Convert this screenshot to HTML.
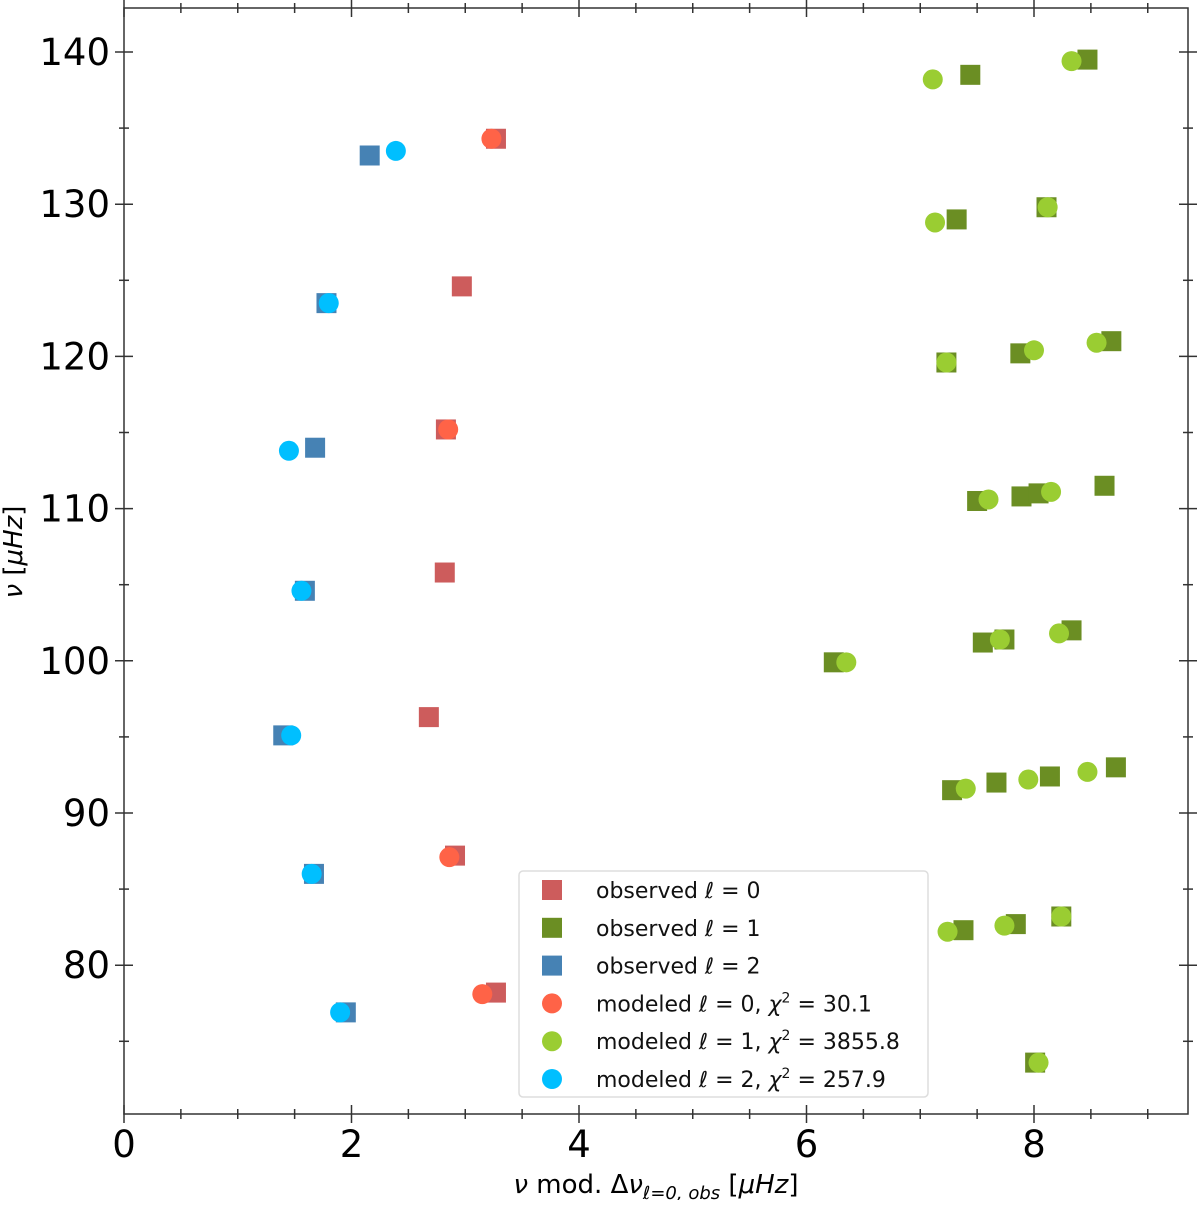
<!DOCTYPE html>
<html><head><meta charset="utf-8"><style>
body{margin:0;background:#fff}
svg text{font-family:"DejaVu Sans","Liberation Sans",sans-serif}
</style></head><body>
<svg id="chart" width="1200" height="1200" xmlns="http://www.w3.org/2000/svg"></svg>
<script>
const xTicks=[0,2,4,6,8];
const yTicks=[80,90,100,110,120,130,140];
const obs0X=[3.27,2.97,2.83,2.82,2.68,2.91,3.27];
const obs0Y=[134.3,124.6,115.2,105.8,96.3,87.2,78.2];
const obs1X=[7.44,8.47,7.32,8.11,7.23,7.88,8.68,7.50,7.89,8.04,8.62,7.55,7.74,8.33,6.24,7.28,7.67,8.14,8.72,7.38,7.84,8.24,8.01];
const obs1Y=[138.5,139.5,129.0,129.8,119.6,120.2,121.0,110.5,110.8,111.0,111.5,101.2,101.4,102.0,99.9,91.5,92.0,92.4,93.0,82.3,82.7,83.2,73.6];
const obs2X=[2.16,1.78,1.68,1.59,1.40,1.67,1.95];
const obs2Y=[133.2,123.5,114.0,104.6,95.1,86.0,76.9];
const mod0X=[3.23,2.85,2.86,3.15];
const mod0Y=[134.3,115.2,87.1,78.1];
const mod1X=[7.11,8.33,7.13,8.12,7.23,8.0,8.55,7.60,8.15,7.70,8.22,6.35,7.40,7.95,8.47,7.24,7.74,8.24,8.04];
const mod1Y=[138.2,139.4,128.8,129.8,119.6,120.4,120.9,110.6,111.1,101.4,101.8,99.9,91.6,92.2,92.7,82.2,82.6,83.2,73.6];
const mod2X=[2.39,1.80,1.45,1.56,1.47,1.65,1.90];
const mod2Y=[133.5,123.5,113.8,104.6,95.1,86.0,76.9];

const L=124,R=1188,T=8,B=1114;
const sx=v=>L+v*113.75;
const sy=v=>52+(140-v)*15.22;
const svg=document.getElementById('chart');
const NS='http://www.w3.org/2000/svg';
function mk(tag,attrs,parent){const e=document.createElementNS(NS,tag);for(const k in attrs)e.setAttribute(k,attrs[k]);(parent||svg).appendChild(e);return e;}

const tg=mk('g',{stroke:'#333','stroke-width':1.5});


for(let v=0;v<=9.3;v+=0.5){const x=sx(v);const maj=Math.abs(v%2)<1e-6;const l=maj?9:5;
 mk('line',{x1:x,x2:x,y1:B-l,y2:B+l},tg);mk('line',{x1:x,x2:x,y1:T-l,y2:T+l},tg);}
for(let v=75;v<=142;v+=5){const y=sy(v);const maj=v%10===0;const l=maj?9:5;
 mk('line',{x1:L-l,x2:L+l,y1:y,y2:y},tg);mk('line',{x1:R-l,x2:R+l,y1:y,y2:y},tg);}
const fr=mk('rect',{x:L,y:T,width:R-L,height:B-T,fill:'none',stroke:'#333','stroke-width':1.5});



xTicks.forEach(v=>{const t=mk('text',{x:sx(v),y:1157,'font-size':37,'text-anchor':'middle',fill:'#000'});t.textContent=v;

});
yTicks.forEach(v=>{const t=mk('text',{x:110,y:sy(v)+13,'font-size':37,'text-anchor':'end',fill:'#000'});t.textContent=v;

});

const xt=mk('text',{x:656,y:1193,'font-size':26,'text-anchor':'middle'});
xt.innerHTML='<tspan font-style="italic">ν</tspan> mod. Δ<tspan font-style="italic">ν</tspan><tspan font-size="18" dy="6" font-style="italic">ℓ=0, obs</tspan><tspan dy="-6"> [</tspan><tspan font-style="italic">μHz</tspan>]';


const yt=mk('text',{x:0,y:0,'font-size':26,'text-anchor':'middle',transform:'translate(22,552) rotate(-90)'});
yt.innerHTML='<tspan font-style="italic">ν</tspan> [<tspan font-style="italic">μHz</tspan>]';



function squares(xs,ys,col,name){xs.forEach((v,i)=>{const r=mk('rect',{x:sx(v)-10,y:sy(ys[i])-10,width:20,height:20,fill:col});

});}
function circles(xs,ys,col,name){xs.forEach((v,i)=>{const c=mk('circle',{cx:sx(v),cy:sy(ys[i]),r:10,fill:col});

});}
squares(obs0X,obs0Y,'#cd5c5c','observed-l0-point');
squares(obs1X,obs1Y,'#6b8e23','observed-l1-point');
squares(obs2X,obs2Y,'#4682b4','observed-l2-point');
circles(mod0X,mod0Y,'#ff6347','modeled-l0-point');
circles(mod1X,mod1Y,'#9acd32','modeled-l1-point');
circles(mod2X,mod2Y,'#00bfff','modeled-l2-point');

const lg=mk('g',{});


mk('rect',{x:519,y:871,width:409,height:226,rx:4,fill:'#fff','fill-opacity':0.85,stroke:'#ddd','stroke-width':1.5},lg);
const items=[['sq','#cd5c5c','observed <tspan font-style="italic">ℓ</tspan> = 0'],['sq','#6b8e23','observed <tspan font-style="italic">ℓ</tspan> = 1'],['sq','#4682b4','observed <tspan font-style="italic">ℓ</tspan> = 2'],
['c','#ff6347','modeled <tspan font-style="italic">ℓ</tspan> = 0, <tspan font-style="italic">χ</tspan><tspan font-size="14" dy="-9">2</tspan><tspan dy="9"> = 30.1</tspan>'],
['c','#9acd32','modeled <tspan font-style="italic">ℓ</tspan> = 1, <tspan font-style="italic">χ</tspan><tspan font-size="14" dy="-9">2</tspan><tspan dy="9"> = 3855.8</tspan>'],
['c','#00bfff','modeled <tspan font-style="italic">ℓ</tspan> = 2, <tspan font-style="italic">χ</tspan><tspan font-size="14" dy="-9">2</tspan><tspan dy="9"> = 257.9</tspan>']];
items.forEach((it,i)=>{const y=890+i*37.8;
 if(it[0]==='sq')mk('rect',{x:542,y:y-10,width:20,height:20,fill:it[1]},lg);else mk('circle',{cx:552,cy:y,r:10,fill:it[1]},lg);
 const t=mk('text',{x:596,y:y+8,'font-size':22,fill:'#111'},lg);t.innerHTML=it[2];
 
 });
</script>
</body></html>
